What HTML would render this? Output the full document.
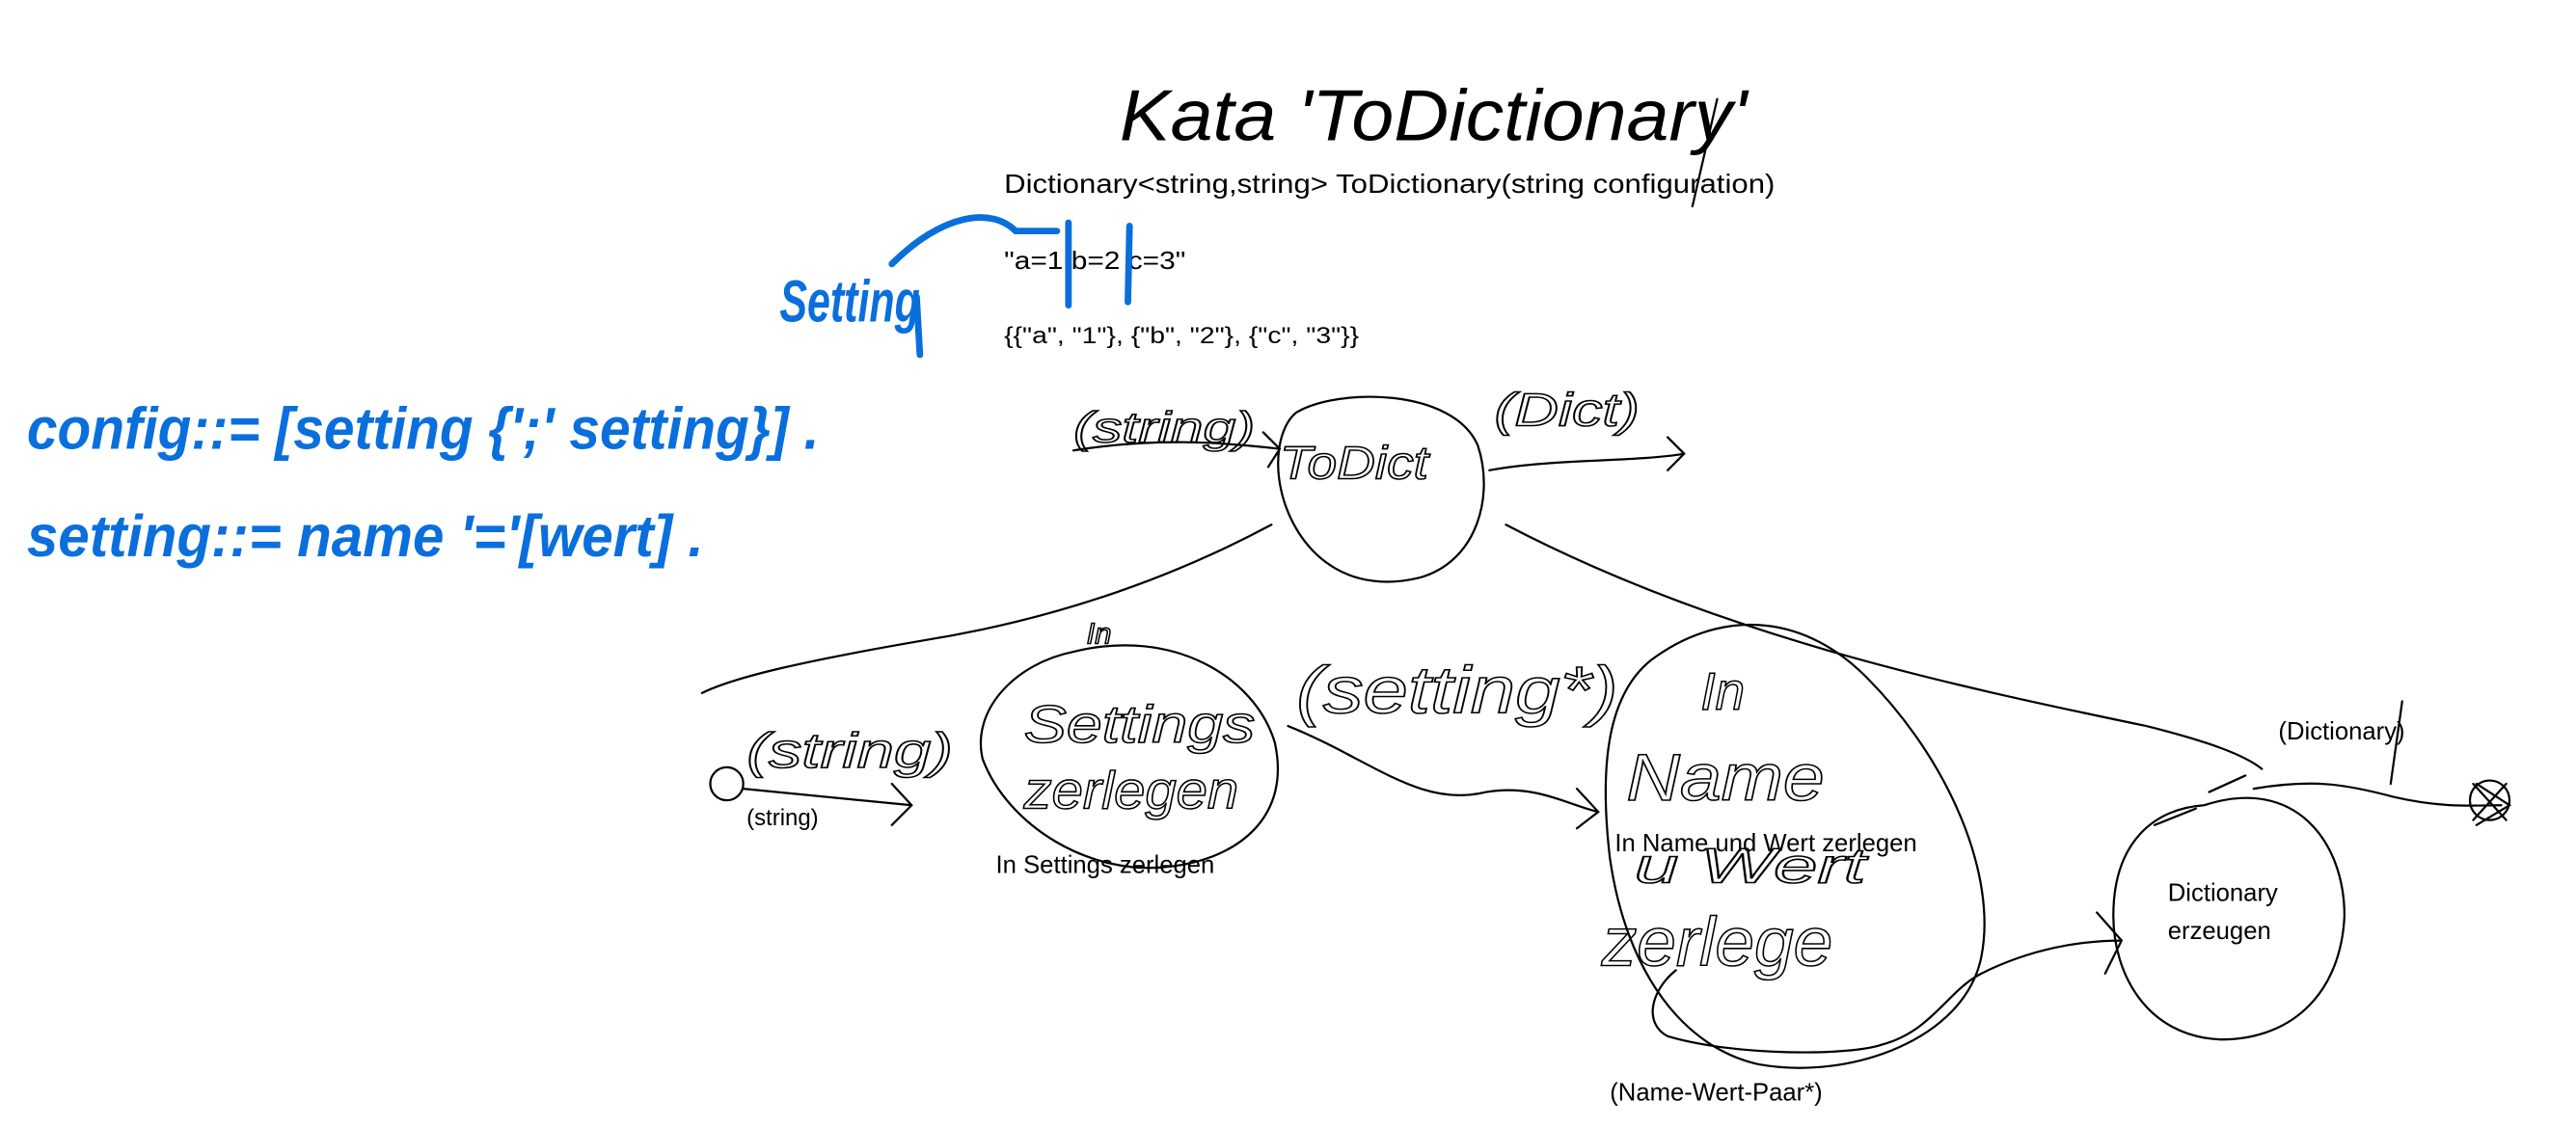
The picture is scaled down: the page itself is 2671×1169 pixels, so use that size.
<!DOCTYPE html>
<html><head><meta charset="utf-8"><style>
html,body{margin:0;padding:0;background:#fff;}
svg{display:block;}
.t{font-family:"Liberation Sans",sans-serif;fill:#000;}
.h{font-family:"Liberation Sans Narrow","Liberation Sans",sans-serif;font-style:italic;fill:none;stroke:#000;stroke-width:0.9;}
.b{font-family:"Liberation Sans Narrow","Liberation Sans",sans-serif;font-weight:bold;fill:#0a6fdc;}
path,ellipse,circle,line{fill:none;stroke:#000;stroke-width:1.3;stroke-linecap:round;}
.bl{stroke:#0a6fdc;stroke-width:4;}
</style></head><body>
<svg width="2671" height="1169" viewBox="0 0 1560 683" xmlns="http://www.w3.org/2000/svg">
<text x="678" y="85" class="t" style="font-size:44px;font-style:italic;font-family:'Liberation Sans Narrow','Liberation Sans',sans-serif" textLength="380" lengthAdjust="spacingAndGlyphs">Kata 'ToDictionary'</text>
<path d="M1040 60 L1025 125"/>
<text x="608" y="117" class="t" style="font-size:16px" textLength="467" lengthAdjust="spacingAndGlyphs">Dictionary&lt;string,string&gt; ToDictionary(string configuration)</text>
<text x="608" y="163" class="t" style="font-size:15px" textLength="110" lengthAdjust="spacingAndGlyphs">"a=1 b=2 c=3"</text>
<text x="608" y="208" class="t" style="font-size:14px" textLength="215" lengthAdjust="spacingAndGlyphs">{{"a", "1"}, {"b", "2"}, {"c", "3"}}</text>
<path class="bl" d="M540 160 C570 130 600 125 615 140 L640 140"/>
<path class="bl" d="M647 135 L647 185 M684 137 L683 183"/>
<text x="472" y="195" class="b" style="font-size:36px;font-style:italic" textLength="85" lengthAdjust="spacingAndGlyphs">Setting</text>
<path class="bl" d="M555 180 L557 215"/>
<text x="16" y="272" class="b" style="font-size:36px;font-style:italic" textLength="480" lengthAdjust="spacingAndGlyphs">config::= [setting {';' setting}] .</text>
<text x="16" y="337" class="b" style="font-size:36px;font-style:italic" textLength="410" lengthAdjust="spacingAndGlyphs">setting::= name '='[wert] .</text>
<path d="M785 250 C810 235 880 235 895 270 C905 300 895 340 860 350 C820 360 790 340 778 305 C770 280 775 258 785 250"/>
<text x="775" y="290" class="h" style="font-size:28px" textLength="90" lengthAdjust="spacingAndGlyphs">ToDict</text>
<text x="650" y="268" class="h" style="font-size:26px" textLength="110" lengthAdjust="spacingAndGlyphs">(string)</text>
<text x="905" y="258" class="h" style="font-size:28px" textLength="88" lengthAdjust="spacingAndGlyphs">(Dict)</text>
<path d="M650 273 C700 265 740 268 775 272 M765 262 L775 272 L768 283"/>
<path d="M902 285 C940 278 990 280 1020 275 M1010 265 L1020 275 L1010 285"/>
<path d="M770 318 C710 350 640 375 560 388 C490 400 445 410 425 420"/>
<path d="M912 318 C1040 385 1180 415 1300 440 C1340 450 1360 458 1370 466"/>
<circle cx="440" cy="475" r="10"/>
<path d="M450 478 L552 488 M540 475 L552 488 L540 500"/>
<text x="452" y="465" class="h" style="font-size:30px" textLength="125" lengthAdjust="spacingAndGlyphs">(string)</text>
<text x="452" y="500" class="t" style="font-size:14px">(string)</text>
<path d="M650 395 C710 380 760 410 772 450 C782 495 750 520 710 525 C660 532 610 500 595 460 C588 430 615 402 650 395"/>
<text x="620" y="450" class="h" style="font-size:32px" textLength="140" lengthAdjust="spacingAndGlyphs">Settings</text>
<text x="620" y="490" class="h" style="font-size:32px" textLength="130" lengthAdjust="spacingAndGlyphs">zerlegen</text>
<text x="658" y="390" class="h" style="font-size:18px">In</text>
<text x="603" y="529" class="t" style="font-size:15px">In Settings zerlegen</text>
<text x="785" y="432" class="h" style="font-size:40px" textLength="195" lengthAdjust="spacingAndGlyphs">(setting*)</text>
<path d="M780 440 C830 460 860 490 900 480 C930 475 950 488 968 492 M955 478 L968 492 L955 502"/>
<path d="M1000 400 C1040 370 1090 370 1130 410 C1180 460 1210 530 1200 580 C1190 630 1120 655 1065 645 C1020 635 985 590 975 520 C968 460 975 420 1000 400"/>
<text x="1030" y="430" class="h" style="font-size:32px">In</text>
<text x="985" y="485" class="h" style="font-size:40px" textLength="120" lengthAdjust="spacingAndGlyphs">Name</text>
<text x="990" y="535" class="h" style="font-size:30px" textLength="140" lengthAdjust="spacingAndGlyphs">u Wert</text>
<text x="970" y="585" class="h" style="font-size:42px" textLength="140" lengthAdjust="spacingAndGlyphs">zerlege</text>
<text x="978" y="516" class="t" style="font-size:15px">In Name und Wert zerlegen</text>
<path d="M1015 588 C1000 600 995 620 1010 628 C1050 640 1120 640 1140 633 C1170 625 1180 600 1200 590 C1230 575 1260 570 1285 570 M1270 553 L1285 570 L1275 590"/>
<text x="975" y="667" class="t" style="font-size:15px">(Name-Wert-Paar*)</text>
<path d="M1335 488 C1390 470 1420 510 1420 555 C1418 600 1390 630 1345 630 C1300 628 1280 590 1280 555 C1280 510 1305 490 1335 488"/>
<path d="M1305 500 L1330 490 M1338 480 L1360 470"/>
<text x="1313" y="546" class="t" style="font-size:15px">Dictionary</text>
<text x="1313" y="569" class="t" style="font-size:15px">erzeugen</text>
<text x="1380" y="448" class="t" style="font-size:15px">(Dictionary)</text>
<path d="M1455 425 L1448 475"/>
<path d="M1365 478 C1400 472 1420 475 1450 483 C1480 490 1500 488 1515 488 M1500 475 L1520 488 L1500 500"/>
<circle cx="1508" cy="485" r="12"/>
<path d="M1498 475 L1518 497 M1518 475 L1498 497"/>
</svg>
</body></html>
